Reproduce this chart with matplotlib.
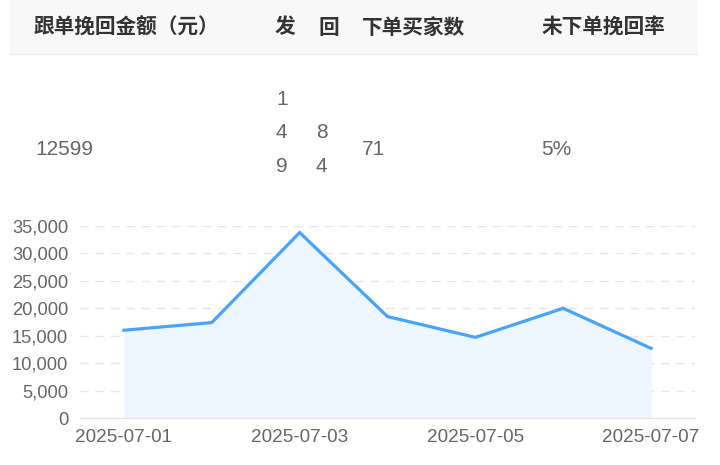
import matplotlib
matplotlib.use("Agg")
import matplotlib.pyplot as plt
from matplotlib.patches import Rectangle
from matplotlib.lines import Line2D
import numpy as np

# ---- data ----
dates = ["2025-07-01", "2025-07-02", "2025-07-03", "2025-07-04",
         "2025-07-05", "2025-07-06", "2025-07-07"]
amounts = [16000, 17400, 33800, 18500, 14700, 20000, 12700]
yticks = [0, 5000, 10000, 15000, 20000, 25000, 30000, 35000]
headers = ["跟单挽回金额（元）", "发", "回", "下单买家数", "未下单挽回率"]
row_amount = "12599"
row_fa = ["1", "4", "9"]
row_hui = ["8", "4"]
row_buyers = "71"
row_rate = "5%"

W, H = 720, 465
fig = plt.figure(figsize=(W / 100, H / 100), dpi=100)

def fx(px):
    return px / W

def fy(py):
    return 1 - py / H

# ---- table ----
fig.patches.append(Rectangle((fx(10), fy(54)), fx(687), 54 / H,
                             transform=fig.transFigure, facecolor="#f8f8f8",
                             edgecolor="none", zorder=0))
fig.lines.append(Line2D([fx(10), fx(697)], [fy(54), fy(54)],
                        transform=fig.transFigure, color="#ececec", lw=1))

cjk = ["Noto Sans CJK SC", "DejaVu Sans"]
hdr_x = [34, 275, 318, 362, 542]
for t, x in zip(headers, hdr_x):
    fig.text(fx(x), fy(27), t, family=cjk, fontsize=14.9, fontweight="bold",
             color="#333333", ha="left", va="center")

num_font = dict(family="Liberation Sans", fontsize=15, color="#666666",
                ha="left", va="baseline")
fig.text(fx(35), fy(155), row_amount, **num_font)
for t, yb in zip(row_fa, [105, 138, 172]):
    fig.text(fx(276), fy(yb), t, **num_font)
for t, yb in zip(row_hui, [138, 172]):
    fig.text(fx(316), fy(yb), t, **num_font)
fig.text(fx(362), fy(155), row_buyers, **num_font)
fig.text(fx(541), fy(155), row_rate, **num_font)

# ---- chart ----
ax = fig.add_axes([fx(80), fy(418), fx(615), 192 / H])
x = np.arange(len(dates))
ax.fill_between(x, amounts, 0, color="#eef6ff", lw=0, zorder=1)
ax.plot(x, amounts, color="#48a4fb", lw=2.3, zorder=3, solid_joinstyle="miter")
ax.set_xlim(-0.5, len(dates) - 0.5)
ax.set_ylim(0, 35000)
ax.set_yticks(yticks)
ax.set_yticklabels([f"{v:,}" for v in yticks])
ax.set_xticks(x[::2])
ax.set_xticklabels(dates[::2])
for v in yticks[1:]:
    ax.axhline(v, color="#e6e6e6", lw=1, dashes=(6, 5), zorder=0)
for s in ["top", "right", "left"]:
    ax.spines[s].set_visible(False)
ax.spines["bottom"].set_color("#e6e6e6")
ax.spines["bottom"].set_linewidth(1)
ax.tick_params(axis="both", length=0, labelcolor="#666666", labelsize=13.2)
ax.tick_params(axis="y", pad=8.5)
ax.tick_params(axis="x", pad=8, labelsize=13.6)
for lab in ax.get_xticklabels() + ax.get_yticklabels():
    lab.set_family("Liberation Sans")

fig.savefig("out.png", dpi=100)
